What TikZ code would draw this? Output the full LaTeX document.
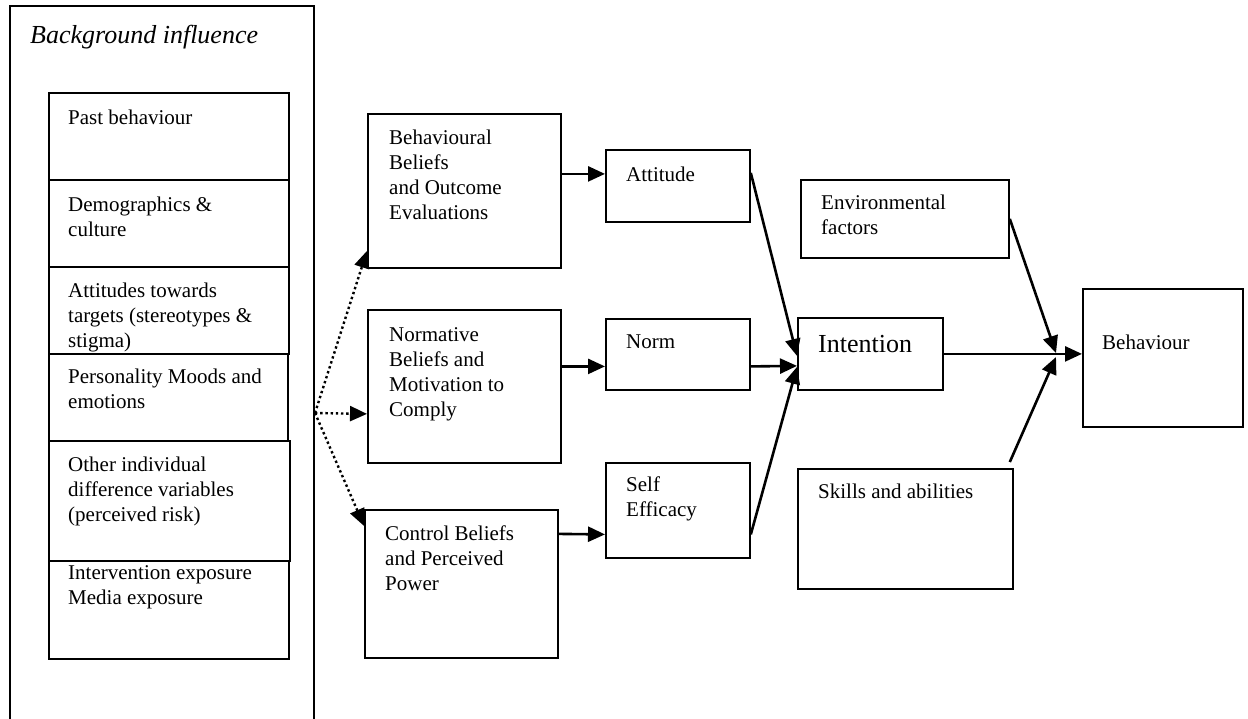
\documentclass[tikz,border=0pt]{standalone}
\usepackage{fontspec}
\setmainfont{Liberation Serif}
\usetikzlibrary{arrows.meta}

\begin{document}
\begin{tikzpicture}
[x=1pt,y=-1pt,line join=miter,
% Styles
box/.style={draw,line width=1.8pt,anchor=north west,inner sep=0pt},
box text/.style={anchor=north west,inner sep=0pt,align=left,font=\fontsize{21}{25}\selectfont},
link/.style={line width=2.6pt,-{Triangle[length=17pt,width=15pt]}},
influence/.style={link,line width=2.4pt,dash pattern=on 2.4pt off 2.8pt}]
% Page
\useasboundingbox (0,0) rectangle (1248,718);
\clip (0,0) rectangle (1248,718);

% Background influence
\node[box,minimum width=304pt,minimum height=740pt] (bg) at (9,5) {};
\node[box text,font=\itshape\fontsize{26}{30}\selectfont] (bg title) at ([shift={(21,20)}]bg.north west) {Background influence};
\node[box,minimum width=240pt,minimum height=87pt] (past) at (48,92) {};
\node[box,minimum width=240pt,minimum height=87pt] (demo) at (48,179) {};
\node[box,minimum width=240pt,minimum height=87pt] (targets) at (48,266) {};
\node[box,minimum width=239pt,minimum height=87pt] (mood) at (48,353) {};
\node[box,minimum width=241pt,minimum height=120pt] (risk) at (48,440) {};
\node[box,minimum width=240pt,minimum height=98pt] (expo) at (48,560) {};
\node[box text] (past text) at ([shift={(20,18)}]past.north west) {Past behaviour};
\node[box text] (demo text) at ([shift={(20,18)}]demo.north west) {Demographics \&\\culture};
\node[box text] (targets text) at ([shift={(20,17)}]targets.north west) {Attitudes towards\\targets (stereotypes \&\\stigma)};
\node[box text] (mood text) at ([shift={(20,16)}]mood.north west) {Personality Moods and\\emotions};
\node[box text] (risk text) at ([shift={(20,17)}]risk.north west) {Other individual\\difference variables\\(perceived risk)};
\node[box text] (expo text) at ([shift={(20,5)}]expo.north west) {Intervention exposure\\Media exposure};

% Beliefs
\node[box,minimum width=193pt,minimum height=154pt] (bb) at (367,113) {};
\node[box,minimum width=193pt,minimum height=153pt] (nb) at (367,309) {};
\node[box,minimum width=193pt,minimum height=148pt] (cb) at (364,509) {};
\node[box text] (bb text) at ([shift={(22,17)}]bb.north west) {Behavioural\\Beliefs\\and Outcome\\Evaluations};
\node[box text] (nb text) at ([shift={(22,18)}]nb.north west) {Normative\\Beliefs and\\Motivation to\\Comply};
\node[box text] (cb text) at ([shift={(21,17)}]cb.north west) {Control Beliefs\\and Perceived\\Power};

% Attitude, norm, efficacy
\node[box,minimum width=144pt,minimum height=72pt] (att) at (605,149) {};
\node[box,minimum width=144pt,minimum height=71pt] (norm) at (605,318) {};
\node[box,minimum width=144pt,minimum height=95pt] (se) at (605,462) {};
\node[box text] (att text) at ([shift={(21,18)}]att.north west) {Attitude};
\node[box text] (norm text) at ([shift={(21,17)}]norm.north west) {Norm};
\node[box text] (se text) at ([shift={(21,15)}]se.north west) {Self\\Efficacy};

% Intention and behaviour
\node[box,minimum width=145pt,minimum height=72pt] (int) at (797,317) {};
\node[box,minimum width=208pt,minimum height=78pt] (env) at (800,179) {};
\node[box,minimum width=215pt,minimum height=120pt] (sk) at (797,468) {};
\node[box,minimum width=160pt,minimum height=138pt] (beh) at (1082,288) {};
\node[box text,font=\fontsize{26}{30}\selectfont] (int text) at ([shift={(21,18)}]int.north west) {Intention};
\node[box text] (env text) at ([shift={(21,16)}]env.north west) {Environmental\\factors};
\node[box text] (sk text) at ([shift={(21,16)}]sk.north west) {Skills and abilities};
\node[box text] (beh text) at ([shift={(20,47)}]beh.north west) {Behaviour};

% Connectors
\coordinate (src) at (315,413);
\coordinate (merge) at (1056,353);
\draw[influence] (src) -- ([shift={(0,60)}]bb.west);
\draw[influence] (src) -- ([shift={(0,27.5)}]nb.west);
\draw[influence] (src) -- ([shift={(0,-58)}]cb.west);
\draw[link] ([shift={(0,-17)}]bb.east) -- ([shift={(0,-12)}]att.west);
\draw[link] ([shift={(0,-20)}]nb.east) -- ([shift={(0,12)}]norm.west);
\draw[link] ([shift={(0,-50)}]cb.east) -- ([shift={(0,24)}]se.west);
\draw[link] ([shift={(0,-13)}]att.east) -- ([shift={(0,2)}]int.west);
\draw[link] ([shift={(0,12)}]norm.east) -- ([shift={(0,12)}]int.west);
\draw[link] ([shift={(0,24)}]se.east) -- ([shift={(0,13)}]int.west);
\draw[link] (int.east) -- (int.east -| beh.west);
\draw[link] (env.east) -- (merge);
\draw[link] ([shift={(-4,-6)}]sk.north east) -- ([shift={(0,4)}]merge);
\end{tikzpicture}
\end{document}
